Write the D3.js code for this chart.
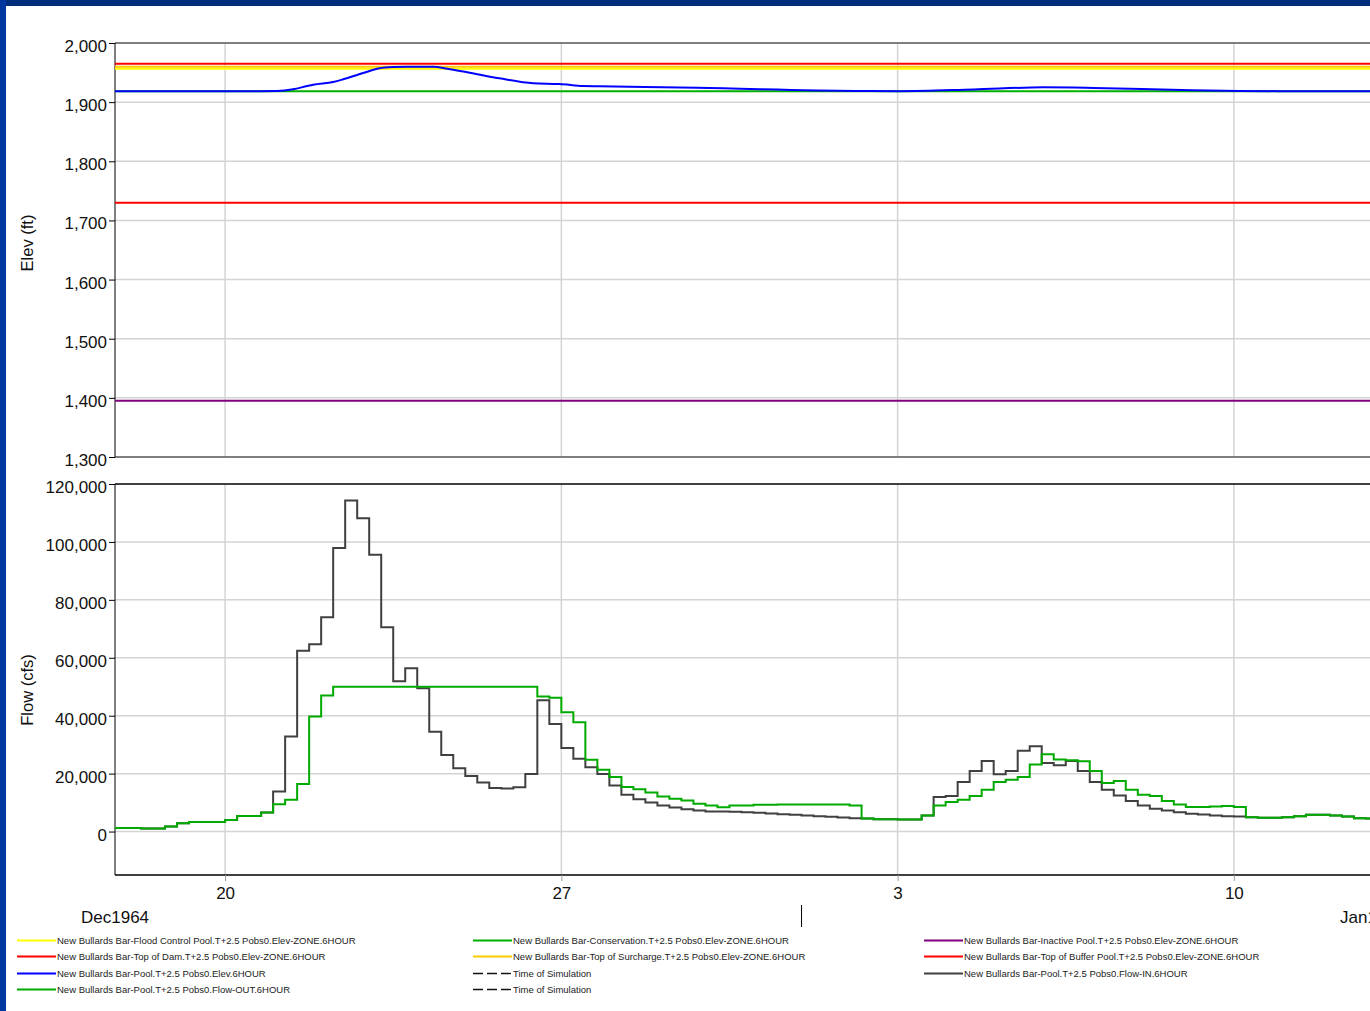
<!DOCTYPE html>
<html>
<head>
<meta charset="utf-8">
<script src="https://cdn.jsdelivr.net/npm/d3@7"></script>
<style>
  html, body { margin: 0; padding: 0; background: #fff; overflow: hidden; }
  svg { display: block; font-family: "Liberation Sans", Arial, sans-serif; }
</style>
</head>
<body>
<svg id="chart" width="1370" height="1011"></svg>
<script>
// ---- Date axis ----
const xDomain = ["1964-12-17T17:00", "1965-01-13T12:00"];
const dateTicks = ["1964-12-20T00:00", "1964-12-27T00:00", "1965-01-03T00:00", "1965-01-10T00:00"];
const dateTickLabels = ["20", "27", "3", "10"];
const monthBreaks = ["1965-01-01T00:00"];
const monthLabels = ["Dec1964", "Jan1965"];

// ---- Elevation axis ----
const elevTicks = [1300, 1400, 1500, 1600, 1700, 1800, 1900, 2000];

// ---- Reservoir zones (ft) ----
const zoneNames = ["Top of Buffer Pool", "Inactive Pool", "Conservation", "Flood Control Pool", "Top of Surcharge", "Top of Dam"];
const zoneElev = [1730, 1395, 1918.5, 1956.5, 1960, 1965];

// ---- Pool elevation (ft) ----
const poolElevTimes = ["1964-12-17T12:00","1964-12-20T12:00","1964-12-21T02:00","1964-12-21T10:00","1964-12-21T17:00",
  "1964-12-21T20:00","1964-12-22T06:00","1964-12-22T11:00","1964-12-22T18:00","1964-12-22T23:00","1964-12-23T05:00",
  "1964-12-23T12:00","1964-12-23T19:00","1964-12-24T08:00","1964-12-24T15:00","1964-12-25T01:00","1964-12-25T17:00",
  "1964-12-26T10:00","1964-12-26T23:00","1964-12-27T11:00","1964-12-27T19:00","1964-12-29T20:00","1965-01-02T03:00",
  "1965-01-03T01:00","1965-01-04T14:00","1965-01-06T01:00","1965-01-07T02:00","1965-01-09T03:00","1965-01-10T03:00",
  "1965-01-11T04:00","1965-01-13T12:00"];
const poolElev = [1918.5,1918.5,1918.8,1921.7,1927.3,1929.5,1934.1,1938.6,1945.9,1951.5,1957.2,1959.4,1959.9,1959.9,
  1956.6,1950.5,1940.3,1931.8,1930.7,1927.3,1926.8,1924.2,1919,1918.5,1921.5,1925,1924,1920,1919,1918.5,1918.5];

// ---- Flow axis ----
const flowTicks = [0, 20000, 40000, 60000, 80000, 100000, 120000];

// ---- 6-hour flows (cfs), first period begins 1964-12-17 12:00 ----
const flowStart = "1964-12-17T12:00";
const flowOut = [1270,1270,1270,1040,1040,1730,2880,3340,3340,3340,4030,5410,5410,6560,
  9440,10940,16460,39700,46970,
  50000,50000,50000,50000,50000,50000,50000,50000,50000,50000,50000,50000,50000,50000,50000,50000,50000,
  46600,46200,41200,37700,24800,21300,18800,15350,14650,13500,12100,11300,10700,9580,9000,8420,9000,9000,
  9230,9230,9350,9350,9350,9350,9350,9350,9000,4500,4270,4270,4160,4160,5550,9020,10170,10980,12250,14450,
  17110,17920,18840,23120,26700,24850,24620,24280,20920,16760,17450,14450,12720,12250,10520,9360,8440,8440,
  8670,8790,8500,4970,4740,4740,4970,5320,5780,5780,5550,5200,4620,4500,4400,4300,4300];
const flowIn = [1270,1270,1270,1040,1040,1730,2880,3340,3340,3340,4030,5410,5410,6560,
  13800,32800,62400,64700,74000,97900,114300,108200,95600,70500,51900,56400,49500,34500,26400,21900,19200,
  16900,15000,14900,15300,19900,45300,37100,28850,25160,22160,19850,15920,12690,11190,10040,9000,8310,7730,
  7270,6920,6920,6800,6690,6460,6230,6000,5770,5540,5310,5080,4850,4620,4500,4270,4270,4160,4160,5550,
  11900,12250,17110,20920,24390,19770,20920,27860,29480,23700,22890,24390,20920,17110,14450,12490,10520,9020,
  7860,7280,6700,6130,5900,5550,5320,5200,4970,4740,4740,4970,5320,5780,5780,5550,5200,4620,4500,4400,4300,4300];

// ---- Legend ----
const legendItems = [
  ["New Bullards Bar-Flood Control Pool.T+2.5 Pobs0.Elev-ZONE.6HOUR", "#ffff00", false],
  ["New Bullards Bar-Top of Dam.T+2.5 Pobs0.Elev-ZONE.6HOUR", "#ff0000", false],
  ["New Bullards Bar-Pool.T+2.5 Pobs0.Elev.6HOUR", "#0000ff", false],
  ["New Bullards Bar-Pool.T+2.5 Pobs0.Flow-OUT.6HOUR", "#00aa00", false],
  ["New Bullards Bar-Conservation.T+2.5 Pobs0.Elev-ZONE.6HOUR", "#00b000", false],
  ["New Bullards Bar-Top of Surcharge.T+2.5 Pobs0.Elev-ZONE.6HOUR", "#ffcc00", false],
  ["Time of Simulation", "#111111", true],
  ["Time of Simulation", "#111111", true],
  ["New Bullards Bar-Inactive Pool.T+2.5 Pobs0.Elev-ZONE.6HOUR", "#800080", false],
  ["New Bullards Bar-Top of Buffer Pool.T+2.5 Pobs0.Elev-ZONE.6HOUR", "#ff0000", false],
  ["New Bullards Bar-Pool.T+2.5 Pobs0.Flow-IN.6HOUR", "#404040", false]
];

// ---- styles ----
const zoneColors = ["#ff0000", "#800080", "#00b000", "#ffff00", "#ffcc00", "#ff0000"];
const gridColor = "#d4d4d4";
const font = "17px";

const parse = d3.timeParse("%Y-%m-%dT%H:%M");
const svg = d3.select("#chart");

// page frame
svg.append("rect").attr("x", 0).attr("y", 0).attr("width", 1370).attr("height", 1011).attr("fill", "#fff");
svg.append("rect").attr("x", 0).attr("y", 0).attr("width", 1370).attr("height", 6).attr("fill", "#002d7a");
svg.append("rect").attr("x", 0).attr("y", 0).attr("width", 6).attr("height", 1011).attr("fill", "#0036a0");

const plotL = 115, plotR = 1402;
const x = d3.scaleTime().domain(xDomain.map(parse)).range([plotL, plotR]);
const yE = d3.scaleLinear().domain([1300, 2000]).range([457, 43]);
const yF = d3.scaleLinear().domain([-15000, 120000]).range([875, 484]);

const defs = svg.append("defs");
defs.append("clipPath").attr("id", "clipTop").append("rect")
  .attr("x", plotL).attr("y", 43).attr("width", plotR - plotL).attr("height", 457 - 43);
defs.append("clipPath").attr("id", "clipBot").append("rect")
  .attr("x", plotL).attr("y", 484).attr("width", plotR - plotL).attr("height", 875 - 484);

function panel(yScale, ticks, top, bottom, clipId, borderColor) {
  const g = svg.append("g");
  // vertical gridlines
  g.selectAll(".vg").data(dateTicks.map(parse)).join("line")
    .attr("x1", d => x(d)).attr("x2", d => x(d)).attr("y1", top).attr("y2", bottom)
    .attr("stroke", gridColor).attr("stroke-width", 1.5);
  // horizontal gridlines
  g.selectAll(".hg").data(ticks.filter(t => yScale(t) > top + 1 && yScale(t) < bottom - 1)).join("line")
    .attr("x1", plotL).attr("x2", plotR).attr("y1", d => yScale(d)).attr("y2", d => yScale(d))
    .attr("stroke", gridColor).attr("stroke-width", 1.5);
  // frame
  g.append("line").attr("x1", plotL).attr("x2", plotR).attr("y1", top).attr("y2", top)
    .attr("stroke", borderColor).attr("stroke-width", 1.5);
  g.append("line").attr("x1", plotL).attr("x2", plotR).attr("y1", bottom).attr("y2", bottom)
    .attr("stroke", borderColor).attr("stroke-width", 1.5);
  // y axis
  const ax = svg.append("g").attr("transform", `translate(${plotL},0)`)
    .call(d3.axisLeft(yScale).tickValues(ticks).tickFormat(d3.format(",")).tickSize(6).tickPadding(2));
  ax.select(".domain").remove();
  ax.append("line").attr("x1", 0).attr("x2", 0).attr("y1", top).attr("y2", bottom).attr("stroke", "#000");
  ax.selectAll(".tick line").attr("stroke", "#000");
  ax.selectAll(".tick text").attr("fill", "#111").attr("dy", "0.5em").style("font-size", font)
    .style("font-family", '"Liberation Sans", Arial, sans-serif');
  return svg.append("g").attr("clip-path", `url(#${clipId})`);
}

// ---- elevation panel ----
const gTop = panel(yE, elevTicks, 43, 457, "clipTop", "#555");
const zoneOrder = [1, 0, 2, 3, 4, 5];
zoneOrder.forEach(i => {
  gTop.append("path")
    .datum(xDomain.map(parse).map(t => ({ t, v: zoneElev[i] })))
    .attr("d", d3.line().x(d => x(d.t)).y(d => yE(d.v)))
    .attr("fill", "none").attr("stroke", zoneColors[i]).attr("stroke-width", 2);
});
const poolData = poolElevTimes.map((t, i) => ({ t: parse(t), v: poolElev[i] }));
gTop.append("path").datum(poolData)
  .attr("d", d3.line().x(d => x(d.t)).y(d => yE(d.v)).curve(d3.curveMonotoneX))
  .attr("fill", "none").attr("stroke", "#0000ff").attr("stroke-width", 2);

// ---- flow panel ----
const gBot = panel(yF, flowTicks, 484, 875, "clipBot", "#000");
const t0 = parse(flowStart);
const stepTime = i => d3.timeHour.offset(t0, 6 * i);
function stepSeries(vals) {
  const pts = vals.map((v, i) => ({ t: stepTime(i), v }));
  pts.push({ t: stepTime(vals.length), v: vals[vals.length - 1] });
  return pts;
}
const stepLine = d3.line().x(d => x(d.t)).y(d => yF(d.v)).curve(d3.curveStepAfter);
gBot.append("path").datum(stepSeries(flowIn)).attr("d", stepLine)
  .attr("fill", "none").attr("stroke", "#404040").attr("stroke-width", 2);
gBot.append("path").datum(stepSeries(flowOut)).attr("d", stepLine)
  .attr("fill", "none").attr("stroke", "#00aa00").attr("stroke-width", 2);

// ---- x axis ----
const xa = svg.append("g").attr("transform", "translate(0,875)")
  .call(d3.axisBottom(x).tickValues(dateTicks.map(parse)).tickFormat((d, i) => dateTickLabels[i]).tickSize(6).tickPadding(6));
xa.select(".domain").remove();
xa.selectAll(".tick line").attr("stroke", "#999");
xa.selectAll(".tick text").attr("fill", "#111").style("font-size", font)
  .style("font-family", '"Liberation Sans", Arial, sans-serif');

monthBreaks.map(parse).forEach(m => {
  svg.append("line").attr("x1", x(m)).attr("x2", x(m)).attr("y1", 905).attr("y2", 927)
    .attr("stroke", "#000").attr("stroke-width", 1);
});
svg.append("text").attr("x", 81).attr("y", 923).text(monthLabels[0])
  .attr("fill", "#111").style("font-size", font);
svg.append("text").attr("x", 1340).attr("y", 923).text(monthLabels[1])
  .attr("fill", "#111").style("font-size", font);

// ---- axis titles ----
svg.append("text").attr("transform", "translate(33,243) rotate(-90)").attr("text-anchor", "middle")
  .text("Elev (ft)").attr("fill", "#111").style("font-size", "16.5px");
svg.append("text").attr("transform", "translate(33,690) rotate(-90)").attr("text-anchor", "middle")
  .text("Flow (cfs)").attr("fill", "#111").style("font-size", "16.5px");

// ---- legend ----
const colX = [17, 473, 924];
const rowY = [940.5, 956.5, 973.5, 989.5];
const legendPos = [[0,0],[0,1],[0,2],[0,3],[1,0],[1,1],[1,2],[1,3],[2,0],[2,1],[2,2]];
legendItems.forEach((item, i) => {
  const [c, r] = legendPos[i];
  const lx = colX[c], ly = rowY[r];
  svg.append("line").attr("x1", lx).attr("x2", lx + 39).attr("y1", ly).attr("y2", ly)
    .attr("stroke", item[1]).attr("stroke-width", item[2] ? 1.3 : 2)
    .attr("stroke-dasharray", item[2] ? "10,4" : null);
  svg.append("text").attr("x", lx + 40).attr("y", ly + 3.5).text(item[0])
    .attr("fill", "#222").style("font-size", "9.5px");
});
</script>
</body>
</html>
